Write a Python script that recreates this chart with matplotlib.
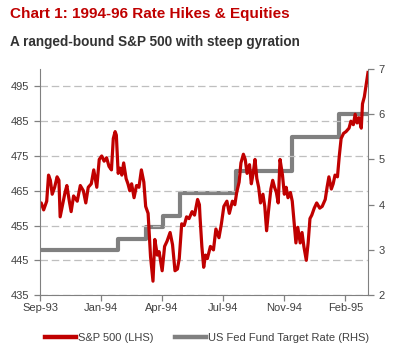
import pandas as pd
import numpy as np
import matplotlib
matplotlib.use("Agg")
import matplotlib.pyplot as plt
import matplotlib.dates as mdates

plt.rcParams['font.family'] = ['Liberation Sans', 'DejaVu Sans']

# S&P 500 closes
spx_dates = [
    "1993-09-28", "1993-10-01", "1993-10-05", "1993-10-10", "1993-10-13", "1993-10-16",
    "1993-10-19", "1993-10-23", "1993-10-27", "1993-10-30", "1993-11-01", "1993-11-05",
    "1993-11-09", "1993-11-12", "1993-11-16", "1993-11-19", "1993-11-23", "1993-11-29",
    "1993-12-04", "1993-12-09", "1993-12-13", "1993-12-17", "1993-12-22", "1993-12-26",
    "1993-12-31", "1994-01-04", "1994-01-08", "1994-01-12", "1994-01-16", "1994-01-20",
    "1994-01-24", "1994-01-27", "1994-01-30", "1994-02-01", "1994-02-04", "1994-02-07",
    "1994-02-10", "1994-02-13", "1994-02-17", "1994-02-20", "1994-02-23", "1994-02-26",
    "1994-03-02", "1994-03-06", "1994-03-10", "1994-03-14", "1994-03-18", "1994-03-21",
    "1994-03-25", "1994-03-29", "1994-04-02", "1994-04-05", "1994-04-09", "1994-04-12",
    "1994-04-17", "1994-04-21", "1994-04-25", "1994-04-30", "1994-05-04", "1994-05-08",
    "1994-05-12", "1994-05-15", "1994-05-19", "1994-05-23", "1994-05-27", "1994-05-31",
    "1994-06-05", "1994-06-09", "1994-06-14", "1994-06-17", "1994-06-18", "1994-06-21",
    "1994-06-24", "1994-06-27", "1994-06-30", "1994-07-05", "1994-07-10", "1994-07-14",
    "1994-07-19", "1994-07-23", "1994-07-27", "1994-08-01", "1994-08-05", "1994-08-10",
    "1994-08-14", "1994-08-17", "1994-08-21", "1994-08-24", "1994-08-28", "1994-08-31",
    "1994-09-03", "1994-09-07", "1994-09-10", "1994-09-13", "1994-09-16", "1994-09-19",
    "1994-09-22", "1994-09-25", "1994-09-29", "1994-10-02", "1994-10-05", "1994-10-08",
    "1994-10-12", "1994-10-15", "1994-10-18", "1994-10-21", "1994-10-24", "1994-10-27",
    "1994-10-31", "1994-11-03", "1994-11-06", "1994-11-09", "1994-11-13", "1994-11-16",
    "1994-11-19", "1994-11-22", "1994-11-25", "1994-11-29", "1994-12-02", "1994-12-05",
    "1994-12-09", "1994-12-12", "1994-12-15", "1994-12-18", "1994-12-22", "1994-12-26",
    "1994-12-31", "1995-01-04", "1995-01-09", "1995-01-12", "1995-01-15", "1995-01-19",
    "1995-01-22", "1995-01-25", "1995-01-29", "1995-02-01", "1995-02-04", "1995-02-08",
    "1995-02-12", "1995-02-17", "1995-02-20", "1995-02-24", "1995-02-27", "1995-03-02",
    "1995-03-05", "1995-03-09", "1995-03-11", "1995-03-14", "1995-03-17", "1995-03-20",
]
spx_values = [
    460.5, 461.5, 459.5, 462.0, 469.5, 468.0,
    464.0, 466.0, 469.0, 468.0, 457.5, 461.0,
    464.5, 466.5, 462.0, 459.0, 463.5, 462.0,
    466.5, 465.0, 461.5, 466.0, 467.0, 471.0,
    466.0, 474.0, 475.0, 473.5, 474.5, 472.0,
    471.0, 480.0, 482.0, 481.0, 470.0, 471.5,
    469.5, 473.0, 468.5, 467.0, 465.0, 467.0,
    463.0, 466.5, 466.0, 471.0, 467.5, 460.5,
    458.5, 446.0, 439.0, 451.0, 446.5, 447.5,
    442.0, 449.0, 450.5, 453.0, 449.5, 442.0,
    442.5, 445.5, 455.5, 455.0, 457.5, 457.0,
    459.0, 458.0, 462.5, 461.0, 457.5, 449.0,
    443.0, 446.5, 445.5, 449.0, 448.0, 454.0,
    451.5, 455.5, 460.5, 462.0, 458.5, 462.0,
    461.0, 464.5, 467.5, 473.0, 475.5, 474.0,
    470.0, 472.5, 467.0, 470.0, 474.0, 468.5,
    466.0, 461.5, 464.0, 460.5, 453.5, 459.0,
    465.5, 468.0, 466.0, 464.5, 461.5, 474.0,
    469.5, 464.0, 466.0, 463.0, 464.5, 462.0,
    456.0, 450.0, 454.5, 450.0, 453.0, 449.0,
    445.0, 450.0, 457.0, 458.0, 460.0, 461.5,
    460.0, 460.5, 462.5, 466.0, 469.0, 465.5,
    467.0, 469.5, 469.0, 475.0, 480.0, 481.5,
    482.0, 483.0, 485.0, 484.0, 487.0, 484.5,
    486.0, 483.0, 490.0, 492.0, 495.5, 499.0,
]

# Fed funds target rate changes
ff_dates = ["1993-09-28", "1994-02-04", "1994-03-22", "1994-04-18", "1994-05-17",
            "1994-08-16", "1994-11-15", "1995-02-01", "1995-03-20"]
ff_values = [3.0, 3.25, 3.5, 3.75, 4.25, 4.75, 5.5, 6.0, 6.0]

left_ticks = [435, 445, 455, 465, 475, 485, 495]
right_ticks = [2, 3, 4, 5, 6, 7]

red = "#C00000"
grey = "#808080"
txt = "#404040"

spx_x = pd.to_datetime(spx_dates)
ff_x = pd.to_datetime(ff_dates)

fig = plt.figure(figsize=(3.94, 3.53), dpi=100)
ax = fig.add_axes([0.1015, 0.164, 0.8325, 0.6405])
ax2 = ax.twinx()

ax2.plot(ff_x, ff_values, color=grey, lw=3.0, drawstyle="steps-post", solid_capstyle="butt")
ax.plot(spx_x, spx_values, color=red, lw=2.3, solid_joinstyle="round")
ax.set_zorder(ax2.get_zorder() + 1)
ax.patch.set_visible(False)

start = pd.Timestamp("1993-09-29")
ax.set_xlim(start, pd.Timestamp("1995-03-20"))
ax.set_ylim(435, 500)
ax2.set_ylim(2, 7)
ax.set_yticks(left_ticks)
ax2.set_yticks(right_ticks)

xt = [start + pd.Timedelta(days=100 * i) for i in range(6)]
ax.set_xticks(xt)
ax.xaxis.set_major_formatter(mdates.DateFormatter("%b-%y"))

ax.grid(axis="y", color="#BFBFBF", ls=(0, (6, 3)), lw=0.9)
for a in (ax, ax2):
    for s in a.spines.values():
        s.set_color(grey)
    a.spines["top"].set_visible(False)
    a.tick_params(colors=grey, labelcolor=txt, labelsize=8, length=4, width=0.9)
ax2.spines["left"].set_visible(False)
ax2.spines["bottom"].set_visible(False)
ax.spines["right"].set_visible(False)
ax.tick_params(axis="x", pad=2)

fig.text(0.025, 0.96, "Chart 1: 1994-96 Rate Hikes & Equities", color=red,
         fontsize=11, fontweight="bold", va="center")
fig.text(0.025, 0.88, "A ranged-bound S&P 500 with steep gyration", color="#333333",
         fontsize=9.8, fontweight="bold", va="center")

h1, = ax.plot([], [], color=red, lw=3.2)
h2, = ax.plot([], [], color=grey, lw=3.2)
fig.legend([h1, h2], ["S&P 500 (LHS)", "US Fed Fund Target Rate (RHS)"],
           loc="center", bbox_to_anchor=(0.525, 0.042), ncol=2, frameon=False,
           fontsize=8, handlelength=2.8, handletextpad=0.2, columnspacing=1.9,
           labelcolor=txt)

fig.savefig("out.png", dpi=100)
